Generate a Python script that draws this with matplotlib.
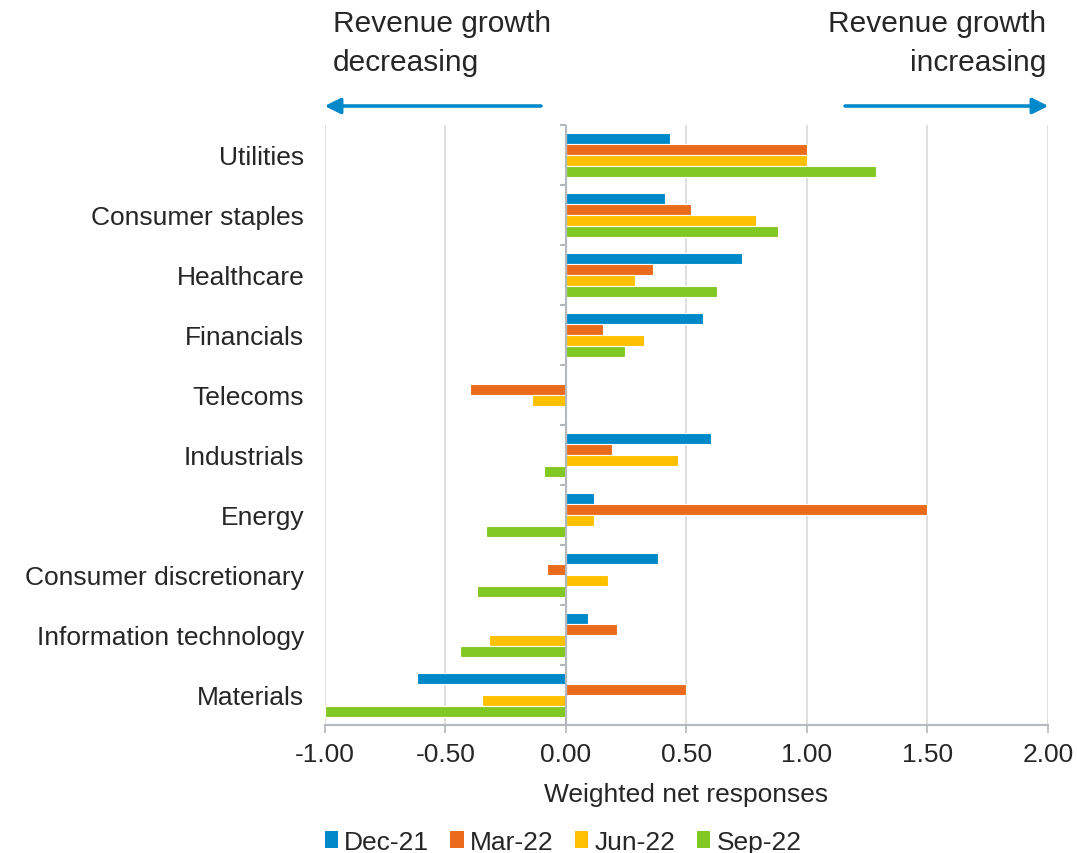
import numpy as np
import matplotlib.pyplot as plt
from matplotlib.patches import Patch

plt.rcParams['font.family'] = ['Liberation Sans', 'DejaVu Sans']

sectors = ['Utilities', 'Consumer staples', 'Healthcare', 'Financials', 'Telecoms',
           'Industrials', 'Energy', 'Consumer discretionary', 'Information technology',
           'Materials']
quarters = ['Dec-21', 'Mar-22', 'Jun-22', 'Sep-22']
colors = ['#0089C9', '#EB6B1C', '#FFC000', '#82C823']

dec21 = [0.43, 0.41, 0.73, 0.57, 0.00, 0.60, 0.115, 0.38, 0.09, -0.62]
mar22 = [1.00, 0.52, 0.36, 0.155, -0.40, 0.19, 1.50, -0.08, 0.21, 0.50]
jun22 = [1.00, 0.79, 0.285, 0.325, -0.14, 0.465, 0.115, 0.175, -0.32, -0.35]
sep22 = [1.285, 0.88, 0.625, 0.245, 0.00, -0.09, -0.33, -0.37, -0.44, -1.00]
series = [dec21, mar22, jun22, sep22]

xticks = [-1.0, -0.5, 0.0, 0.5, 1.0, 1.5, 2.0]

text_col = '#262626'
grid_col = '#D9D9D9'
axis_col = '#B4B9BF'
fs = 19

fig = plt.figure(figsize=(10.77, 8.54), dpi=100)
ax = fig.add_axes([325 / 1077, 1 - 726 / 854, (1048 - 325) / 1077, 600 / 854])

y = np.arange(len(sectors))
step = 0.185
for k, (vals, c) in enumerate(zip(series, colors)):
    ax.barh(y + (k - 1.5) * step, vals, height=step - 0.01, color=c,
            edgecolor='white', linewidth=0.8, zorder=3)

ax.set_xlim(-1.0, 2.0)
ax.set_ylim(len(sectors) - 0.5, -0.5)
ax.set_xticks(xticks)
ax.set_xticklabels(['%.2f' % t for t in xticks])
ax.set_yticks(y)
ax.set_yticklabels(sectors)

ax.grid(axis='x', color=grid_col, linewidth=1.2, zorder=0)
for s in ['left', 'right', 'top']:
    ax.spines[s].set_visible(False)
ax.spines['bottom'].set_color(axis_col)
ax.spines['bottom'].set_linewidth(1.5)

# zero axis with category separators
ax.axvline(0, color=axis_col, linewidth=1.5, zorder=4)
bounds = np.arange(len(sectors) + 1) - 0.5
ax.hlines(bounds, -0.025, 0, color=axis_col, linewidth=1.5, zorder=4, clip_on=False)

ax.tick_params(axis='y', length=0, pad=15, labelsize=fs, labelcolor=text_col)
ax.tick_params(axis='x', length=6, width=1.2, color=axis_col, pad=6,
               labelsize=fs, labelcolor=text_col)
ax.set_xlabel('Weighted net responses', fontsize=fs, color=text_col, labelpad=12)

# direction captions and arrows
fig.text(333 / 1077, 1 - 10 / 854, 'Revenue growth\ndecreasing', ha='left', va='top',
         fontsize=21.5, color=text_col, linespacing=1.5)
fig.text(1046 / 1077, 1 - 10 / 854, 'Revenue growth\nincreasing', ha='right', va='top',
         fontsize=21.5, color=text_col, linespacing=1.5)
arrow = dict(arrowstyle='-|>', color='#0089C9', lw=2.2, mutation_scale=24,
             shrinkA=0, shrinkB=0)
ya = 1 - 107 / 854
fig.add_artist(plt.annotate('', xy=(325 / 1077, ya), xytext=(541 / 1077, ya),
                            xycoords='figure fraction', arrowprops=arrow))
fig.add_artist(plt.annotate('', xy=(1048 / 1077, ya), xytext=(845 / 1077, ya),
                            xycoords='figure fraction', arrowprops=arrow))

handles = [Patch(facecolor=c, edgecolor='none') for c in colors]
fig.legend(handles, quarters, loc='center', bbox_to_anchor=(563 / 1077, 1 - 843 / 854),
           ncol=4, frameon=False, fontsize=fs, handlelength=0.5, handleheight=0.6,
           handletextpad=0.25, columnspacing=0.8, labelcolor=text_col)

fig.savefig('out.png', dpi=100)
